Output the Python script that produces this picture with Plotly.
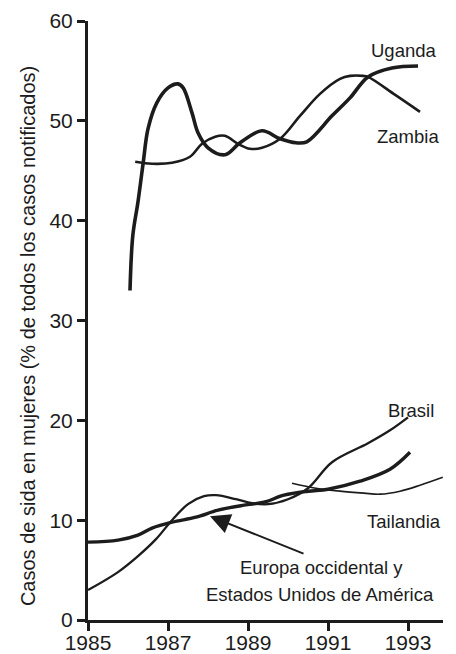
import plotly.graph_objects as go

# ---- data ----
uganda_x = [1986.05, 1986.12, 1986.25, 1986.38, 1986.5, 1986.72, 1987.0, 1987.25, 1987.38,
            1987.6, 1987.75, 1988.0, 1988.42, 1988.8, 1989.35, 1989.8, 1990.2, 1990.47,
            1991.1, 1991.55, 1992.0, 1992.6, 1993.25]
uganda_y = [33.0, 38.5, 41.9, 45.8, 49.2, 51.8, 53.3, 53.7, 53.3,
            50.8, 48.8, 47.3, 46.6, 47.8, 49.0, 48.2, 47.8, 47.9,
            50.5, 52.3, 54.4, 55.3, 55.5]

zambia_x = [1986.18, 1986.6, 1987.1, 1987.55, 1987.85, 1988.18, 1988.42, 1988.75, 1989.05,
            1989.35, 1989.8, 1990.3, 1990.8, 1991.3, 1991.55, 1991.88, 1992.0, 1992.68, 1993.3]
zambia_y = [45.9, 45.7, 45.8, 46.4, 47.7, 48.4, 48.5, 47.7, 47.2,
            47.3, 48.2, 50.5, 52.7, 54.2, 54.5, 54.5, 54.4, 52.6, 50.9]

europa_x = [1985.0, 1985.75, 1986.25, 1986.6, 1987.1, 1987.7, 1988.25, 1988.9, 1989.4,
            1989.9, 1990.5, 1991.0, 1991.8, 1992.55, 1993.05]
europa_y = [7.8, 8.0, 8.5, 9.2, 9.8, 10.3, 11.0, 11.5, 11.8,
            12.5, 12.9, 13.1, 13.9, 15.1, 16.8]

brasil_x = [1985.0, 1985.75, 1986.25, 1986.7, 1987.1, 1987.5, 1987.9, 1988.2, 1988.7,
            1989.1, 1989.5, 1990.0, 1990.5, 1991.1, 1992.0, 1992.55, 1993.0]
brasil_y = [3.0, 4.8, 6.4, 8.1, 10.0, 11.6, 12.4, 12.5, 12.1,
            11.7, 11.6, 12.1, 13.2, 15.8, 17.7, 19.0, 20.3]

tailandia_x = [1990.1, 1990.7, 1991.3, 1991.9, 1992.3, 1992.8, 1993.3, 1993.87]
tailandia_y = [13.7, 13.2, 12.9, 12.7, 12.6, 12.9, 13.5, 14.3]

x_ticks = [1985, 1987, 1989, 1991, 1993]
y_ticks = [0, 10, 20, 30, 40, 50, 60]

FONT = "Liberation Sans, Arial, sans-serif"
INK = "#1c1c1c"

fig = go.Figure()

def add_line(x, y, w):
    fig.add_trace(go.Scatter(x=x, y=y, mode="lines",
                             line=dict(color=INK, width=w, shape="spline", smoothing=1.0),
                             showlegend=False, hoverinfo="skip"))

add_line(zambia_x, zambia_y, 2.6)
add_line(uganda_x, uganda_y, 3.6)
add_line(tailandia_x, tailandia_y, 1.7)
add_line(brasil_x, brasil_y, 2.3)
add_line(europa_x, europa_y, 3.4)

labels = [
    ("Uganda", 1992.9, 57.0),
    ("Zambia", 1993.0, 48.4),
    ("Brasil", 1993.08, 21.0),
    ("Tailandia", 1992.9, 9.9),
    ("Europa occidental y", 1990.83, 5.3),
    ("Estados Unidos de América", 1990.8, 2.6),
]
for txt, x, y in labels:
    fig.add_annotation(x=x, y=y, text=txt, showarrow=False,
                       xanchor="center", yanchor="middle",
                       font=dict(family=FONT, size=18.5, color=INK))

# arrow pointing to the Europe / USA line
fig.add_annotation(x=1988.05, y=10.4, text="", showarrow=True,
                   ax=95, ay=38, axref="pixel", ayref="pixel",
                   arrowhead=2, arrowsize=2.0, arrowwidth=2, arrowcolor=INK)

# y-axis title
fig.add_annotation(xref="paper", yref="paper", x=-0.169, y=0.474,
                   text="Casos de sida en mujeres (% de todos los casos notificados)",
                   textangle=-90, showarrow=False, xanchor="center", yanchor="middle",
                   font=dict(family=FONT, size=20, color=INK))

axis_common = dict(showgrid=False, zeroline=False, showline=True, linecolor=INK, linewidth=3,
                   ticks="outside", ticklen=8, tickwidth=2.5, tickcolor=INK, automargin=False,
                   ticklabeloverflow="allow",
                   tickfont=dict(family=FONT, size=21, color=INK))

fig.update_layout(
    width=448, height=646,
    margin=dict(l=80, r=13, t=13, b=34),
    paper_bgcolor="white", plot_bgcolor="white",
    font=dict(family=FONT, size=21, color=INK),
    xaxis=dict(range=[1985, 1993.875], tickvals=x_ticks, ticktext=[str(v) for v in x_ticks],
               ticklabelstandoff=-6, **axis_common),
    yaxis=dict(range=[0, 60], tickvals=y_ticks, ticktext=[str(v) for v in y_ticks],
               **axis_common),
)

fig.write_html("out.html")
